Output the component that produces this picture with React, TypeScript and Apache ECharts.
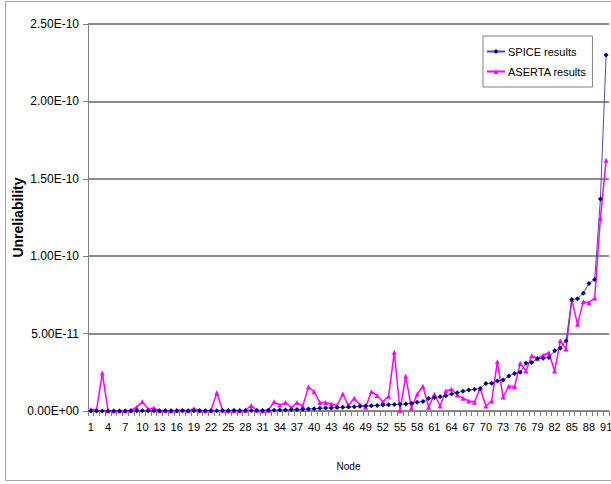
import React, { useEffect, useRef } from "react";
import * as echarts from "echarts";

// Node numbers 1..91 (category axis)
const nodes: string[] = Array.from({ length: 91 }, (_, i) => String(i + 1));

// Values in units of 1e-11
const spice: number[] = [
  0.002, 0.003, 0.004, 0.005, 0.006, 0.007, 0.008, 0.009, 0.01, 0.011,
  0.012, 0.013, 0.014, 0.015, 0.016, 0.017, 0.018, 0.019, 0.02, 0.021,
  0.022, 0.023, 0.024, 0.025, 0.026, 0.028, 0.03, 0.032, 0.034, 0.036,
  0.04, 0.045, 0.05, 0.06, 0.07, 0.08, 0.1, 0.11, 0.13, 0.15,
  0.17, 0.19, 0.2, 0.22, 0.24, 0.26, 0.28, 0.3, 0.32, 0.34,
  0.36, 0.38, 0.4, 0.42, 0.44, 0.46, 0.5, 0.56, 0.62, 0.8,
  0.88, 0.92, 0.99, 1.1, 1.18, 1.27, 1.35, 1.4, 1.46, 1.78,
  1.8, 1.94, 2.0, 2.26, 2.43, 2.5, 3.08, 3.14, 3.38, 3.4,
  3.46, 3.89, 4.05, 4.54, 7.2, 7.25, 7.6, 8.24, 8.5, 13.7,
  23.0,
];

const aserta: number[] = [
  0.1, 0.1, 2.45, 0.02, 0.02, 0.02, 0.02, 0.05, 0.25, 0.6,
  0.12, 0.2, 0.02, 0.05, 0.02, 0.05, 0.08, 0.02, 0.15, 0.05,
  0.02, 0.05, 1.18, 0.05, 0.02, 0.05, 0.02, 0.05, 0.35, 0.05,
  0.02, 0.05, 0.6, 0.38, 0.55, 0.2, 0.55, 0.3, 1.55, 1.25,
  0.55, 0.55, 0.45, 0.35, 1.1, 0.35, 0.82, 0.4, 0.25, 1.25,
  1.0, 0.6, 0.95, 3.8, 0.03, 2.25, 0.2, 1.08, 1.6, 0.25,
  1.08, 0.32, 1.29, 1.4, 1.03, 0.82, 0.65, 0.56, 1.46, 0.32,
  0.65, 3.18, 0.9, 1.6, 1.57, 3.08, 2.58, 3.57, 3.4, 3.6,
  3.76, 2.58, 4.54, 4.0, 7.2, 5.6, 7.05, 7.0, 7.3, 12.45,
  16.2,
];

const yTickLabels: string[] = [
  "0.00E+00", "5.00E-11", "1.00E-10", "1.50E-10", "2.00E-10", "2.50E-10",
];

const FONT = "'Liberation Sans', Arial, sans-serif";

export default function App() {
  const ref = useRef<HTMLDivElement>(null);
  useEffect(() => {
    if (!ref.current) return;
    const chart = echarts.init(ref.current, null, { renderer: "svg" });
    chart.setOption({
      animation: false,
      backgroundColor: "#ffffff",
      textStyle: { fontFamily: FONT },
      graphic: [
        {
          type: "rect",
          shape: { x: 5.5, y: 1.5, width: 700, height: 479 },
          style: { fill: "none", stroke: "#a6a6a6", lineWidth: 1 },
          silent: true,
        },
      ],
      grid: { left: 88, top: 24, width: 521, height: 387, outerBoundsMode: "none", containLabel: false },
      legend: {
        orient: "vertical",
        left: 483,
        top: 36,
        backgroundColor: "#ffffff",
        borderColor: "#808080",
        borderWidth: 1,
        padding: [10, 6, 10, 3],
        itemGap: 9,
        itemWidth: 18,
        itemHeight: 6,
        textStyle: { fontSize: 11, color: "#000", fontFamily: FONT, padding: [0, 0, 0, -2] },
        data: ["SPICE results", "ASERTA results"],
      },
      xAxis: {
        type: "category",
        data: nodes,
        boundaryGap: true,
        name: "Node",
        nameLocation: "middle",
        nameGap: 50,
        nameMoveOverlap: false,
        nameTextStyle: { fontSize: 10, color: "#000", fontFamily: FONT },
        axisLine: { lineStyle: { color: "#808080", width: 1 } },
        axisTick: { show: true, interval: 0, length: 5, lineStyle: { color: "#808080" } },
        axisLabel: { interval: 2, fontSize: 11, color: "#000", margin: 10, fontFamily: FONT },
        splitLine: { show: false },
      },
      yAxis: {
        type: "value",
        min: 0,
        max: 25,
        interval: 5,
        name: "Unreliability",
        nameLocation: "middle",
        nameGap: 63,
        nameMoveOverlap: false,
        nameTextStyle: { fontSize: 14, fontWeight: "bold", color: "#000", fontFamily: FONT },
        axisLine: { show: true, lineStyle: { color: "#808080", width: 1 } },
        axisTick: { show: true, length: 5, lineStyle: { color: "#808080" } },
        axisLabel: {
          fontSize: 12,
          color: "#000",
          margin: 9,
          fontFamily: FONT,
          formatter: (v: number) => yTickLabels[Math.round(v / 5)] ?? "",
        },
        splitLine: { show: true, lineStyle: { color: "#8c8c8c", width: 2 } },
      },
      series: [
        {
          name: "ASERTA results",
          type: "line",
          data: aserta,
          symbol: "triangle",
          symbolSize: 5,
          showAllSymbol: true,
          itemStyle: { color: "#ff00ff" },
          lineStyle: { color: "#ff00ff", width: 1.5 },
          z: 2,
        },
        {
          name: "SPICE results",
          type: "line",
          data: spice,
          symbol: "diamond",
          symbolSize: 5,
          showAllSymbol: true,
          itemStyle: { color: "#000080" },
          lineStyle: { color: "#4d4da6", width: 1 },
          z: 3,
        },
      ],
    });
    return () => chart.dispose();
  }, []);
  return (
    <div
      ref={ref}
      style={{ position: "fixed", left: 0, top: 0, width: 611, height: 484 }}
    />
  );
}
